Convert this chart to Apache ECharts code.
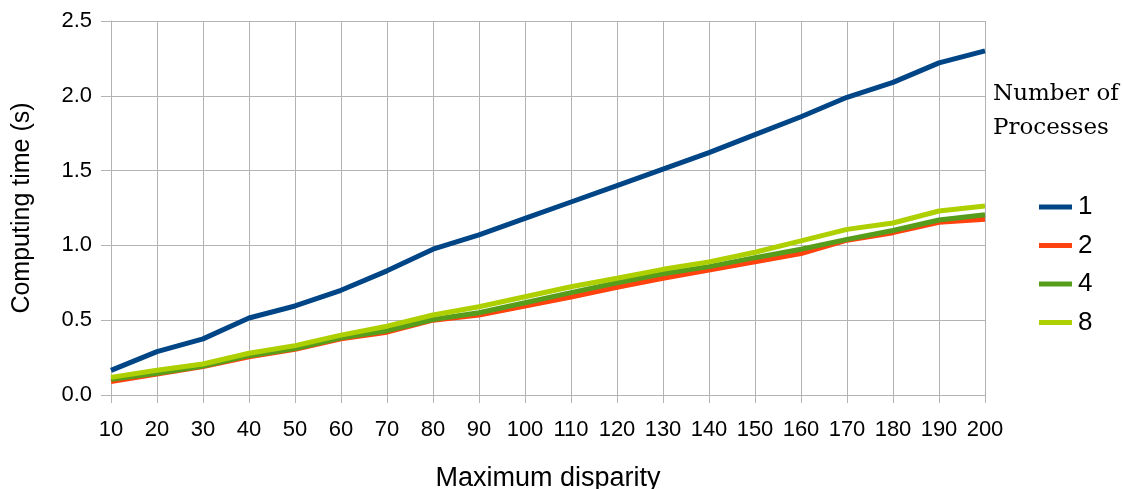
<!DOCTYPE html>
<html>
<head>
<meta charset="utf-8">
<script src="https://cdn.jsdelivr.net/npm/echarts@6/dist/echarts.min.js"></script>
<style>
  html, body { margin: 0; padding: 0; background: #fff; }
  #chart { width: 1123px; height: 489px; }
</style>
</head>
<body>
<div id="chart"></div>
<script>
// maximum disparity (x values)
const disparity = [10, 20, 30, 40, 50, 60, 70, 80, 90, 100, 110, 120, 130, 140, 150, 160, 170, 180, 190, 200];

// computing time (s) per number of processes
const proc1 = [0.165, 0.29, 0.375, 0.515, 0.595, 0.70, 0.83, 0.975, 1.07, 1.18, 1.29, 1.40, 1.51, 1.62, 1.74, 1.86, 1.99, 2.09, 2.22, 2.30];
const proc2 = [0.09, 0.14, 0.19, 0.255, 0.305, 0.375, 0.42, 0.50, 0.535, 0.595, 0.655, 0.72, 0.78, 0.835, 0.89, 0.945, 1.035, 1.085, 1.155, 1.175];
const proc4 = [0.105, 0.145, 0.194, 0.263, 0.31, 0.383, 0.43, 0.505, 0.55, 0.617, 0.684, 0.75, 0.81, 0.858, 0.918, 0.974, 1.04, 1.10, 1.17, 1.205];
const proc8 = [0.118, 0.165, 0.207, 0.279, 0.33, 0.40, 0.46, 0.535, 0.59, 0.657, 0.724, 0.78, 0.84, 0.89, 0.954, 1.03, 1.107, 1.15, 1.23, 1.263];

const seriesNames = ["1", "2", "4", "8"];
const seriesData = [proc1, proc2, proc4, proc8];
const colors = ["#004586", "#ff420e", "#579d1c", "#aecf00"];

const gridGray = "#b3b3b3";
const sans = "Liberation Sans";

const chart = echarts.init(document.getElementById("chart"));

chart.setOption({
  animation: false,
  backgroundColor: "#fff",
  color: colors,
  title: {
    text: "Number of\nProcesses",
    left: 993,
    top: 77,
    padding: 0,
    textStyle: {
      fontFamily: "DejaVu Serif",
      fontWeight: "normal",
      fontSize: 23,
      lineHeight: 34,
      color: "#000"
    }
  },
  legend: {
    orient: "vertical",
    left: 1039,
    top: 194,
    padding: 0,
    itemWidth: 33,
    itemHeight: 5,
    itemGap: 12.5,
    icon: "rect",
    data: seriesNames,
    textStyle: {
      fontFamily: sans,
      fontSize: 26,
      color: "#000",
      padding: [0, 0, 0, 1]
    }
  },
  grid: {
    left: 111,
    right: 138,
    top: 21,
    bottom: 94,
    containLabel: false,
    outerBoundsMode: "none"
  },
  xAxis: {
    type: "value",
    min: 10,
    max: 200,
    interval: 10,
    name: "Maximum disparity",
    nameLocation: "middle",
    nameGap: 70,
    nameTextStyle: { fontFamily: sans, fontSize: 27, color: "#000" },
    axisLine: { lineStyle: { color: gridGray, width: 1 } },
    axisTick: { show: true, length: 8, lineStyle: { color: gridGray } },
    axisLabel: { margin: 24, fontFamily: sans, fontSize: 22, color: "#000" },
    splitLine: { show: true, lineStyle: { color: gridGray, width: 1 } }
  },
  yAxis: {
    type: "value",
    min: 0,
    max: 2.5,
    interval: 0.5,
    name: "Computing time (s)",
    nameLocation: "middle",
    nameGap: 76,
    nameTextStyle: { fontFamily: sans, fontSize: 25, color: "#000" },
    axisLine: { show: true, lineStyle: { color: gridGray, width: 1 } },
    axisTick: { show: true, length: 10, lineStyle: { color: gridGray } },
    axisLabel: {
      margin: 19,
      fontFamily: sans,
      fontSize: 22,
      color: "#000",
      formatter: v => v.toFixed(1)
    },
    splitLine: { show: true, lineStyle: { color: gridGray, width: 1 } }
  },
  series: seriesNames.map((name, i) => ({
    name: name,
    type: "line",
    showSymbol: false,
    symbol: "none",
    lineStyle: { width: 5, color: colors[i] },
    data: disparity.map((d, k) => [d, seriesData[i][k]])
  }))
});
</script>
</body>
</html>
